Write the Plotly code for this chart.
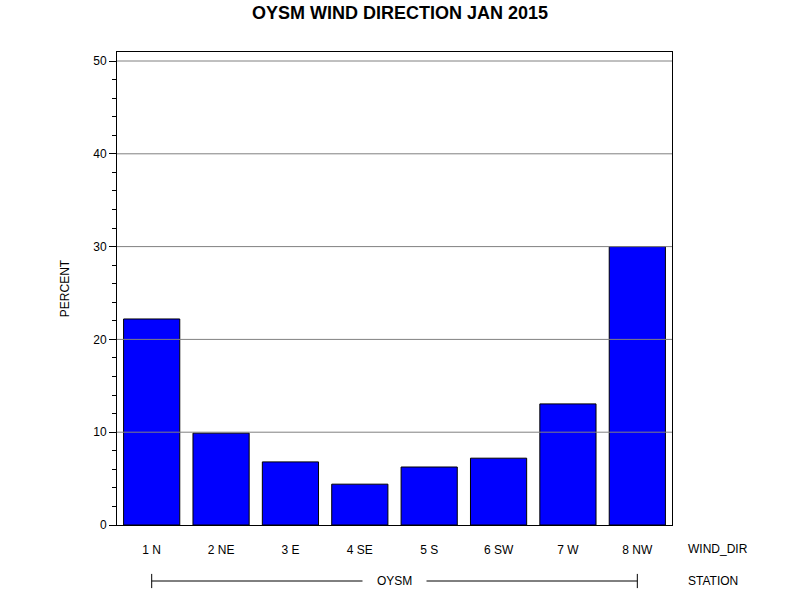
import plotly.graph_objects as go

categories = ["1 N", "2 NE", "3 E", "4 SE", "5 S", "6 SW", "7 W", "8 NW"]
percent = [22.2, 9.9, 6.8, 4.4, 6.25, 7.2, 13.05, 30.0]
y_major_ticks = [0, 10, 20, 30, 40, 50]
station = "OYSM"

FONT = "Liberation Sans, Arial, sans-serif"

fig = go.Figure()
fig.add_trace(go.Bar(
    x=categories, y=percent,
    marker=dict(color="#0000FF", line=dict(color="black", width=1)),
    hoverinfo="x+y",
))

shapes = []
# gridlines drawn above bars
for v in y_major_ticks[1:]:
    shapes.append(dict(type="line", xref="paper", x0=0, x1=1, yref="y", y0=v, y1=v,
                       line=dict(color="#808080", width=1), layer="above"))

n = len(categories)
xs0, xs1 = 0.5 / n, (n - 0.5) / n
ys = -0.1184
shapes.append(dict(type="line", xref="paper", yref="paper", x0=xs0, x1=xs1, y0=ys, y1=ys,
                   line=dict(color="black", width=1)))
for xv in (xs0, xs1):
    shapes.append(dict(type="line", xref="paper", yref="paper", x0=xv, x1=xv,
                       y0=ys - 0.015, y1=ys + 0.015, line=dict(color="black", width=1)))

annotations = [
    dict(text=station, xref="paper", yref="paper", x=0.5, y=ys, showarrow=False,
         font=dict(size=12, color="black", family=FONT), bgcolor="white", borderpad=14,
         xanchor="center", yanchor="middle"),
    dict(text="WIND_DIR", xref="paper", yref="paper", x=1.025, y=-0.0507, showarrow=False,
         font=dict(size=12, color="black", family=FONT), xanchor="left", yanchor="middle"),
    dict(text="STATION", xref="paper", yref="paper", x=1.025, y=ys, showarrow=False,
         font=dict(size=12, color="black", family=FONT), xanchor="left", yanchor="middle"),
]

fig.update_layout(
    width=800, height=600,
    margin=dict(l=117, r=128, t=52, b=75),
    paper_bgcolor="white", plot_bgcolor="white",
    font=dict(family=FONT, size=12, color="black"),
    title=dict(text="<b>OYSM WIND DIRECTION JAN 2015</b>", x=0.5, xref="container",
               xanchor="center", y=1 - 13 / 600, yref="container", yanchor="middle",
               font=dict(size=18, color="black", family=FONT)),
    bargap=0.19,
    showlegend=False,
    shapes=shapes,
    annotations=annotations,
)
fig.update_xaxes(
    showline=True, linecolor="black", linewidth=1, mirror=True,
    ticks="", showgrid=False, ticklabelstandoff=14,
    tickfont=dict(size=12, color="black", family=FONT),
)
fig.update_yaxes(
    range=[0, 50.97], tickvals=y_major_ticks, showgrid=False, zeroline=False,
    showline=True, linecolor="black", linewidth=1, mirror=True,
    ticks="outside", ticklen=7, tickcolor="black", tickwidth=1,
    minor=dict(dtick=2, ticks="outside", ticklen=4, tickcolor="black", tickwidth=1, showgrid=False),
    tickfont=dict(size=12, color="black", family=FONT),
    title=dict(text="PERCENT", standoff=21, font=dict(size=12, color="black", family=FONT)),
)

fig.write_html("out.html", config={"displayModeBar": False},
               post_script="document.body.style.margin='0';document.body.style.overflow='hidden';")
